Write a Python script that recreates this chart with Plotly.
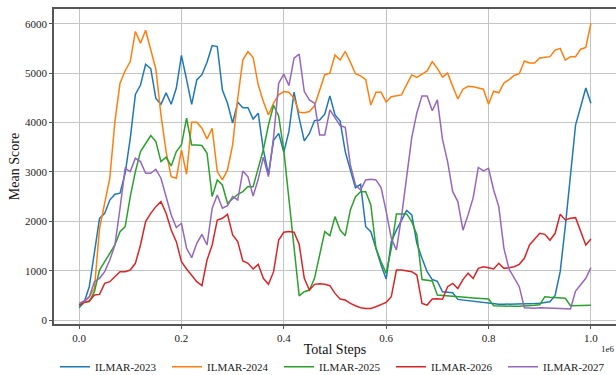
import plotly.graph_objects as go

steps = [i * 10000 for i in range(101)]

ilmar_2023 = [250, 360, 680, 1350, 2060, 2160, 2430, 2550, 2570, 2970,
              3680, 4570, 4760, 5180, 5090, 4490, 4370, 4600, 4370, 4700,
              5360, 4870, 4370, 4865, 4970, 5220, 5560, 5540, 4660, 4390,
              3990, 4410, 4300, 4300, 4070, 4190, 3450, 2950, 3640, 3780,
              3400, 3820, 4615, 4090, 3630, 3780, 4040, 4050, 4170, 4540,
              4155, 4030, 3410, 3040, 2680, 2750, 1890, 1790, 1450, 1115,
              830, 1590, 1820, 2030, 2220, 2130, 1550, 1250, 980, 820,
              785, 573, 565, 553, 418, 405, 395, 385, 375, 362,
              351, 330, 322, 320, 320, 322, 325, 328, 330, 335,
              340, 360, 370, 500, 980, 1900, 2950, 3950, 4320, 4700,
              4390]

ilmar_2024 = [304, 372, 473, 642, 1858, 2331, 2872, 4020, 4797, 5050,
              5236, 5845, 5608, 5870, 5490, 5080, 4155, 3412, 2905, 2872,
              3446, 2953, 4007, 4007, 3885, 3669, 3885, 3007, 2838, 3040,
              3547, 4493, 5270, 5439, 5318, 4764, 4426, 4155, 4392, 4561,
              4628, 4615, 4493, 4210, 4200, 4223, 4340, 4635, 4970, 5000,
              5370, 5265, 5440, 5225, 4990, 4945, 4870, 4355, 4612, 4612,
              4415, 4525, 4545, 4560, 4770, 4965, 4915, 4980, 5045, 5233,
              5098, 4922, 5003, 4733, 4477, 4676, 4733, 4726, 4693, 4676,
              4372, 4635, 4604, 4800, 4868, 4953, 4990, 5246, 5206, 5206,
              5307, 5318, 5335, 5469, 5503, 5266, 5335, 5335, 5486, 5520,
              6010]

ilmar_2025 = [290, 358, 372, 574, 1014, 1182, 1351, 1520, 1791, 1892,
              2500, 3007, 3412, 3581, 3736, 3615, 3209, 3297, 3122, 3412,
              3547, 4088, 3547, 3547, 3534, 3378, 2500, 2838, 2736, 2365,
              2466, 2547, 2601, 2703, 2700, 3050, 3450, 3950, 4350, 4130,
              3430, 2450, 1400, 490, 574, 608, 845, 1318, 1791, 1709,
              2095, 1824, 1709, 2230, 2500, 2601, 2601, 2331, 1453, 1182,
              946, 1453, 2149, 2149, 2149, 1993, 1723, 820, 810, 790,
              506, 495, 488, 480, 470, 462, 455, 447, 440, 432,
              425, 290, 285, 282, 280, 280, 282, 285, 290, 300,
              310, 473, 460, 455, 450, 440, 290, 292, 295, 298,
              300]

ilmar_2026 = [304, 358, 385, 507, 520, 743, 777, 878, 980, 980,
              1014, 1149, 1520, 1993, 2162, 2297, 2399, 2162, 1824, 1588,
              1182, 1034, 912, 777, 696, 1216, 1520, 2027, 2061, 2142,
              1723, 1588, 1196, 1149, 1034, 1128, 845, 723, 980, 1622,
              1777, 1791, 1777, 1534, 845, 608, 723, 736, 723, 696,
              540, 426, 405, 338, 290, 250, 236, 236, 270, 318,
              358, 473, 1014, 1014, 993, 980, 911, 338, 304, 425,
              430, 420, 675, 742, 640, 820, 950, 843, 1046, 1081,
              1061, 1034, 1149, 1047, 1061, 1081, 1128, 1250, 1520, 1650,
              1757, 1736, 1615, 1757, 2142, 2027, 2061, 2074, 1791, 1520,
              1642]

ilmar_2027 = [338, 385, 473, 777, 845, 980, 1216, 1520, 2264, 3074,
              3007, 3277, 3209, 2973, 2973, 3054, 2872, 2500, 2128, 1872,
              1960, 1453, 1264, 1554, 1736, 1520, 2264, 2534, 2264, 2318,
              2500, 2432, 3020, 2900, 2510, 2850, 3300, 2905, 3700, 4797,
              4980, 4750, 5304, 5385, 4628, 4459, 4392, 3750, 3750, 4257,
              4088, 3939, 3905, 3142, 2736, 2635, 2838, 2851, 2838, 2682,
              2200, 1655, 1419, 2100, 2900, 3700, 4200, 4540, 4540, 4240,
              4460, 3660, 3210, 2600, 2400, 1820, 2130, 2480, 3090, 3020,
              3074, 2635, 2297, 1453, 1034, 845, 676, 250, 240, 240,
              250, 250, 250, 240, 236, 230, 223, 588, 723, 845,
              1061]

series_names = ["ILMAR-2023", "ILMAR-2024", "ILMAR-2025", "ILMAR-2026", "ILMAR-2027"]
series_values = [ilmar_2023, ilmar_2024, ilmar_2025, ilmar_2026, ilmar_2027]
colors = ["#1f77b4", "#ff7f0e", "#2ca02c", "#d62728", "#9467bd"]

x_tick_vals = [0, 200000, 400000, 600000, 800000, 1000000]
x_tick_text = ["0.0", "0.2", "0.4", "0.6", "0.8", "1.0"]
y_tick_vals = [0, 1000, 2000, 3000, 4000, 5000, 6000]

fig = go.Figure()
for name, vals, c in zip(series_names, series_values, colors):
    fig.add_trace(go.Scatter(x=steps, y=vals, mode="lines", name=name,
                             line=dict(color=c, width=1.5)))

FONT = "Liberation Serif"
fig.update_layout(
    width=616, height=375,
    margin=dict(l=54, r=0, t=9, b=51, autoexpand=False),
    paper_bgcolor="white", plot_bgcolor="white",
    font=dict(family=FONT, size=11, color="#222222"),
    legend=dict(orientation="h", x=0.5, xanchor="center", y=-0.09, yanchor="top",
                font=dict(family=FONT, size=11, color="#222222"),
                entrywidth=67, entrywidthmode="pixels", itemwidth=30,
                bgcolor="rgba(0,0,0,0)"),
    showlegend=True,
)
fig.update_xaxes(
    range=[-49000, 1049000], tickvals=x_tick_vals, ticktext=x_tick_text,
    showgrid=True, gridcolor="#c4c4c4", gridwidth=1, zeroline=False,
    showline=True, linecolor="#555555", linewidth=1.6, mirror=True,
    ticks="outside", ticklen=3, tickcolor="#555555",
    tickfont=dict(family=FONT, size=11, color="#222222"),
    title=dict(text="Total Steps", font=dict(family=FONT, size=14, color="#111111"), standoff=1),
)
fig.update_yaxes(
    range=[-80, 6300], tickvals=y_tick_vals,
    showgrid=True, gridcolor="#c4c4c4", gridwidth=1, zeroline=False,
    showline=True, linecolor="#555555", linewidth=1.6, mirror=False,
    ticks="outside", ticklen=3, tickcolor="#555555",
    tickfont=dict(family=FONT, size=11, color="#222222"),
    title=dict(text="Mean Score", font=dict(family=FONT, size=14, color="#111111"), standoff=2),
)
fig.add_annotation(text="1e6", xref="paper", yref="paper", x=1.0, y=-0.056,
                   xanchor="right", yanchor="top", showarrow=False,
                   font=dict(family=FONT, size=9, color="#222222"))

fig.write_html("out.html")
